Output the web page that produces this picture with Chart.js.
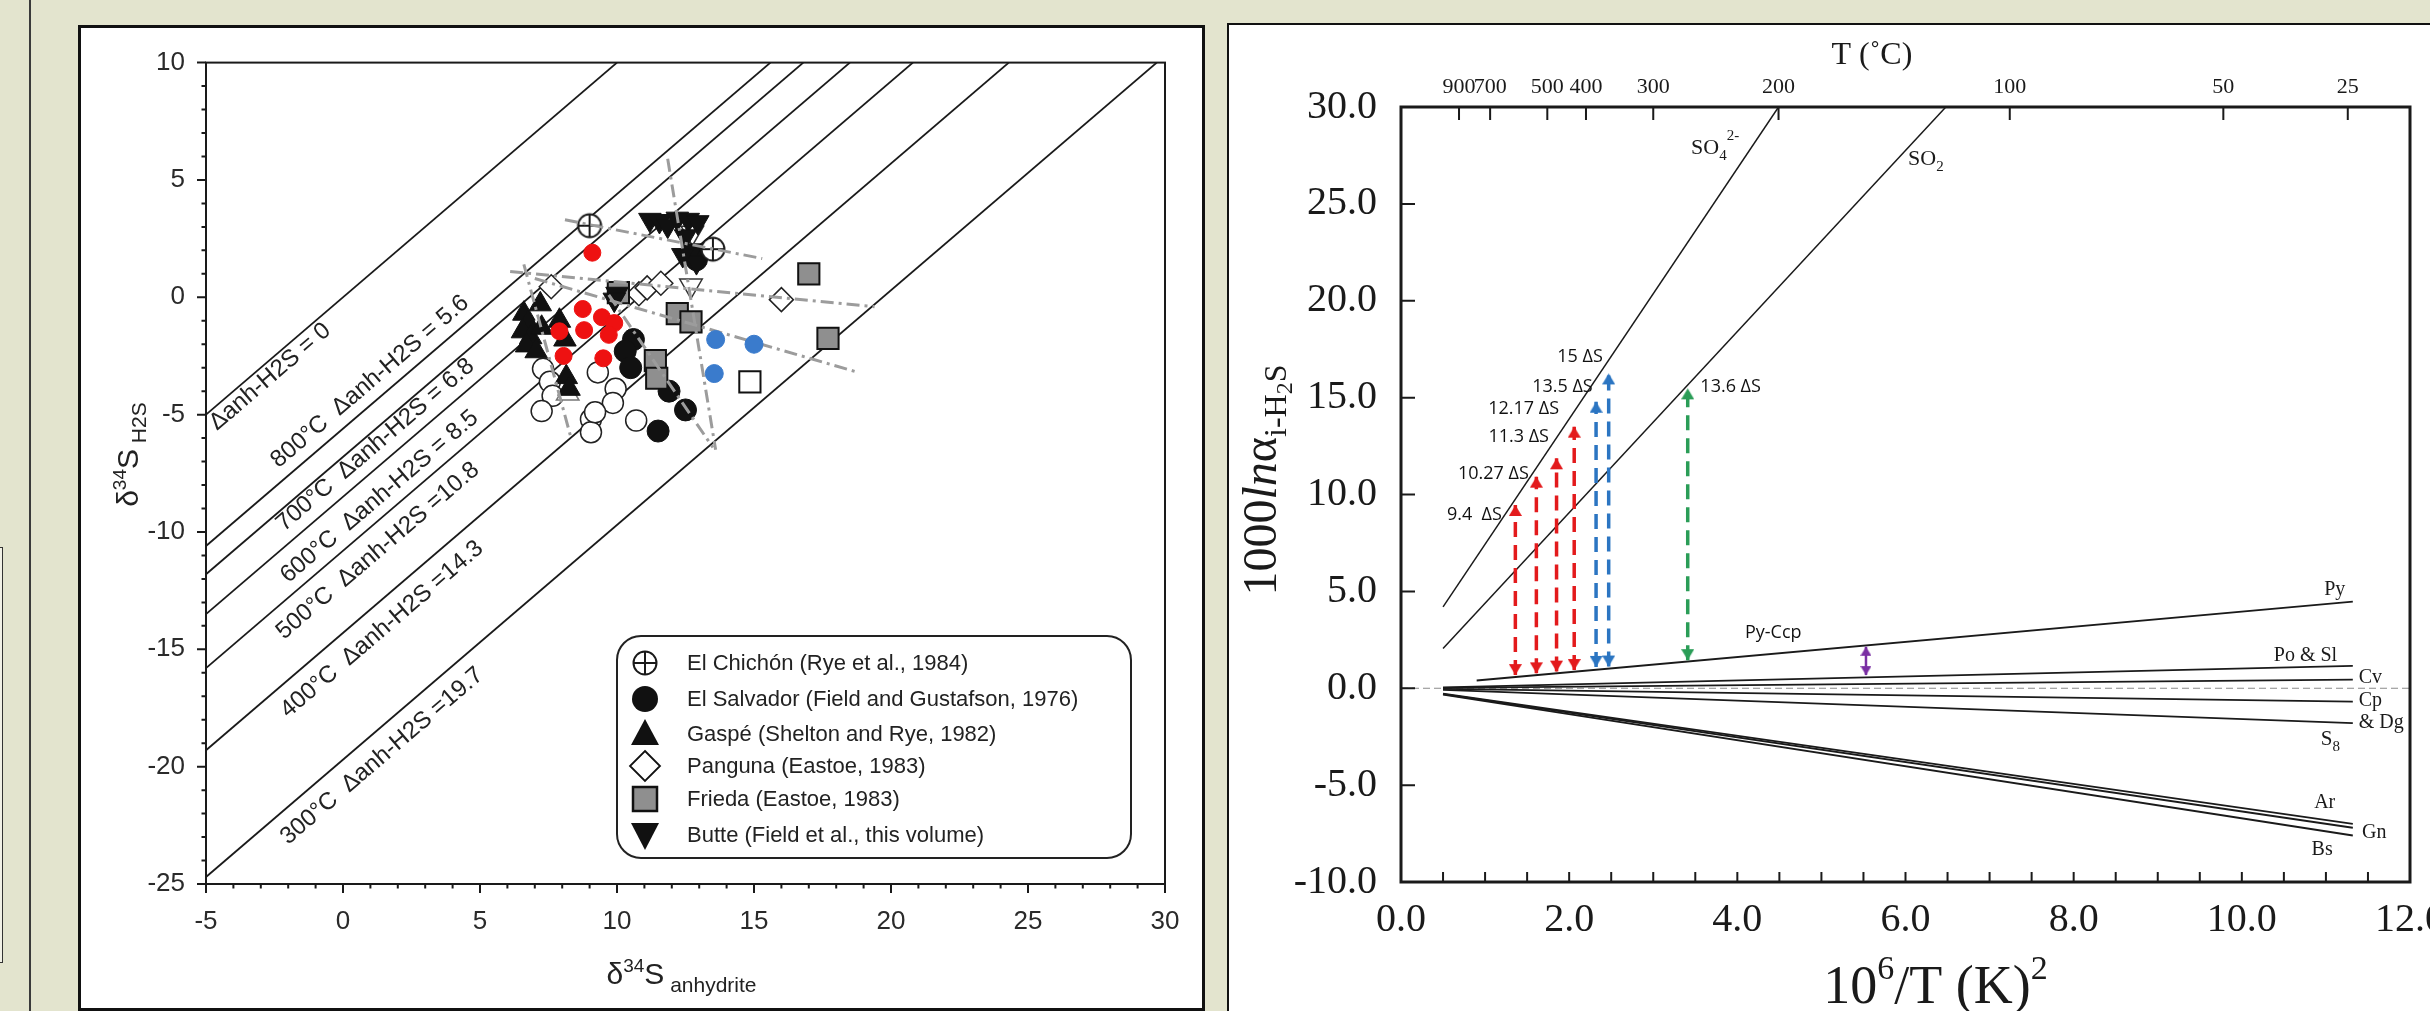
<!DOCTYPE html>
<html>
<head>
<meta charset="utf-8">
<title>Sulfur isotope fractionation</title>
<script src="https://cdn.jsdelivr.net/npm/chart.js@4.4.1/dist/chart.umd.min.js"></script>
<style>
html,body{margin:0;padding:0;}
body{width:2430px;height:1011px;overflow:hidden;background:#e3e4ce;position:relative;}
.abs{position:absolute;box-sizing:border-box;}
#farBox{left:-2px;top:547px;width:5px;height:416px;border:1.5px solid #333;background:#f1f1e6;}
#vline{left:29px;top:0;width:2px;height:1011px;background:#3a3a3a;}
#panelL{left:78px;top:25px;width:1127px;height:986px;border:3px solid #111;background:#fff;}
#panelR{left:1227px;top:23px;width:1260px;height:1050px;border:2px solid #111;background:#fff;}
canvas{position:absolute;}
#cL{left:79px;top:26px;}
#cR{left:1228px;top:24px;}
</style>
</head>
<body>
<div id="farBox" class="abs"></div>
<div id="vline" class="abs"></div>
<div id="panelL" class="abs"></div>
<div id="panelR" class="abs"></div>
<canvas id="cL" width="1125" height="984"></canvas>
<canvas id="cR" width="1262" height="1000"></canvas>
<script>
// ================= LEFT PANEL DATA =================
const leftXRange = [-5, 30];
const leftYRange = [-25, 10];
const isoDeltas = [0, 5.6, 6.8, 8.5, 10.8, 14.3, 19.7];
const isoTemps  = ['', '800°C', '700°C', '600°C', '500°C', '400°C', '300°C'];
const isoLabelAt = [[-4.6,-5.7],[-2.35,-7.3],[-2.15,-10.0],[-2.0,-12.2],[-2.15,-14.6],[-2.0,-17.95],[-2.0,-23.35]];

const elChichon  = [[9.0,3.05],[13.5,2.05]];
const elSalvador = [[10.6,-1.8],[10.3,-2.3],[10.5,-3.0],[11.9,-4.0],[12.5,-4.8],[11.5,-5.7],[12.9,1.6]];
const gaspe      = [[6.6,-0.7],[6.75,-1.1],[6.55,-1.45],[6.85,-1.7],[6.7,-2.05],[7.05,-2.3],[7.25,-1.3],[7.2,-0.3],[7.9,-1.0],[8.1,-1.8],[8.15,-3.4],[8.25,-3.9]];
const panguna    = [[7.6,0.45],[10.8,0.15],[11.1,0.4],[11.6,0.6],[16.0,-0.1]];
const frieda     = [[17.0,1.0],[17.7,-1.75],[12.2,-0.7],[12.7,-1.05],[11.4,-2.7],[11.45,-3.45],[10.05,0.2]];
const butte      = [[11.2,3.3],[11.55,3.25],[11.85,3.05],[12.2,3.35],[12.6,3.3],[12.95,3.2],[12.5,2.6],[12.75,2.0],[12.9,1.5],[12.4,1.8],[10.0,0.15],[9.9,-0.1]];
const butteOpen  = [[12.75,2.75],[12.7,0.5]];
const openCircles= [[7.3,-3.05],[7.55,-3.6],[7.65,-4.2],[7.25,-4.85],[9.3,-3.2],[9.95,-3.9],[9.85,-4.5],[9.05,-5.2],[9.05,-5.75],[10.7,-5.25],[9.2,-4.9]];
const openTriangle = [[8.2,-4.1]];
const openSquare = [[14.85,-3.6]];
const redDots    = [[9.1,1.9],[8.75,-0.5],[9.45,-0.85],[8.8,-1.4],[7.9,-1.45],[9.9,-1.1],[9.7,-1.6],[8.05,-2.5],[9.5,-2.6]];
const blueDots   = [[13.6,-1.8],[15.0,-2.0],[13.55,-3.25]];
const trendLines = [
  [[8.1,3.3],[15.3,1.65]],
  [[6.1,1.1],[19.4,-0.4]],
  [[7.0,0.8],[18.8,-3.2]],
  [[11.85,5.9],[13.6,-6.5]],
  [[6.6,1.4],[8.3,-5.9]],
  [[9.7,0.1],[13.5,-6.4]]
];
const legendNames = ['El Chichón (Rye et al., 1984)','El Salvador (Field and Gustafson, 1976)','Gaspé (Shelton and Rye, 1982)','Panguna (Eastoe, 1983)','Frieda (Eastoe, 1983)','Butte (Field et al., this volume)'];
const legendKinds = ['cplus','circle','tri','diam','sq','itri'];

// ================= RIGHT PANEL DATA =================
const rightXRange = [0, 12];
const rightYRange = [-10, 30];
const topTickLabels = ['900','700','500','400','300','200','100','50','25'];
const topTickPos    = [0.69,1.06,1.74,2.2,3.0,4.49,7.24,9.78,11.26];
const curveNames = ['SO4','SO2','Py','PoSl','Cv','Cp','S8','Ar','Gn','Bs'];
const curveStart = [[0.5,4.2],[0.5,2.05],[0.9,0.4],[0.5,0.05],[0.5,0.02],[0.5,-0.03],[0.5,-0.08],[0.5,-0.28],[0.5,-0.3],[0.5,-0.33]];
const curveEnd   = [[4.49,30],[6.48,30],[11.32,4.47],[11.32,1.15],[11.32,0.45],[11.32,-0.69],[11.32,-1.8],[11.32,-7.0],[11.32,-7.2],[11.32,-7.6]];
const arrowX      = [1.36,1.61,1.85,2.06,2.32,2.47,3.41,5.53];
const arrowTop    = [9.46,10.92,11.87,13.5,14.79,16.25,15.48,2.14];
const arrowBottom = [0.68,0.77,0.86,0.94,1.1,1.12,1.45,0.68];
const arrowGroup  = ['red','red','red','red','blue','blue','green','purple'];
const arrowTexts  = ['9.4  ΔS','10.27 ΔS','11.3 ΔS','12.17 ΔS','13.5 ΔS','15 ΔS','13.6 ΔS','Py-Ccp'];
const arrowTextAt = [[1.2,8.94,'right'],[1.52,11.05,'right'],[1.76,12.95,'right'],[1.88,14.4,'right'],[2.28,15.56,'right'],[2.4,17.1,'right'],[3.56,15.56,'left'],[4.09,2.85,'left']];
const curveTexts  = ['Py','Po & Sl','Cv','Cp','& Dg','Ar','Gn','Bs'];
const curveTextAt = [[10.98,5.07],[10.38,1.66],[11.39,0.53],[11.39,-0.66],[11.39,-1.79],[10.86,-5.92],[11.43,-7.47],[10.83,-8.35]];

// ================= STYLE =================
const SANS = "'Liberation Sans', Arial, Helvetica, sans-serif";
const SERIF = "'Liberation Serif', 'Times New Roman', serif";
const CAL = "'Open Sans', 'Noto Sans', sans-serif";
const groupColor = {red:'#e31a1c', blue:'#2b75c2', green:'#2a9d57', purple:'#7a2fa3'};
const INK = '#1a1a1a';

function makeCanvas(w,h,draw){const c=document.createElement('canvas');c.width=w;c.height=h;draw(c.getContext('2d'));return c;}
const circlePlus = makeCanvas(28,28,ctx=>{ctx.fillStyle='#fff';ctx.strokeStyle=INK;ctx.lineWidth=2;ctx.beginPath();ctx.arc(14,14,11.5,0,Math.PI*2);ctx.fill();ctx.stroke();ctx.beginPath();ctx.moveTo(2.5,14);ctx.lineTo(25.5,14);ctx.moveTo(14,2.5);ctx.lineTo(14,25.5);ctx.stroke();});
function arrowHead(color, up, w, h){
  return makeCanvas(w, 2*h+2, ctx=>{const c=h+1;ctx.fillStyle=color;ctx.beginPath();
    if(up){ctx.moveTo(w/2,c);ctx.lineTo(w,c+h);ctx.lineTo(0,c+h);} else {ctx.moveTo(w/2,c);ctx.lineTo(w,c-h);ctx.lineTo(0,c-h);}
    ctx.closePath();ctx.fill();});
}
const pts = a => a.map(([x,y])=>({x,y}));

function rich(ctx, segs, x, y, align, family, color){
  let w=0;
  segs.forEach(s=>{ctx.font=(s.i?'italic ':'')+s.s+'px '+family; s._w=ctx.measureText(s.t).width; w+=s._w;});
  let cx = align==='center' ? x-w/2 : (align==='right' ? x-w : x);
  ctx.fillStyle=color; ctx.textAlign='left'; ctx.textBaseline='alphabetic';
  segs.forEach(s=>{ctx.font=(s.i?'italic ':'')+s.s+'px '+family; ctx.fillText(s.t,cx,y+(s.dy||0)); cx+=s._w;});
}

// ================= LEFT CHART =================
const leftSets = [];
isoDeltas.forEach(d=>{
  leftSets.push({type:'line', data:[{x:leftXRange[0],y:leftXRange[0]-d},{x:leftYRange[1]+d,y:leftYRange[1]}],
    borderColor:INK, borderWidth:1.8, pointRadius:0, order:20});
});
trendLines.forEach(l=>{
  leftSets.push({type:'line', data:pts(l), borderColor:'#9c9c9c', borderWidth:3, borderDash:[13,5,3,5], pointRadius:0, order:1});
});
function sc(data, style, r, bg, bc, bw, order, rot){
  return {type:'scatter', data:pts(data), pointStyle:style, pointRadius:r, pointBackgroundColor:bg, pointBorderColor:bc, pointBorderWidth:bw, pointRotation:rot||0, order};
}
leftSets.push(sc(openCircles,'circle',10.5,'#fff','#222',1.5,9));
leftSets.push(sc(gaspe,'triangle',13,'#111','#111',1,8));
leftSets.push(sc(openTriangle,'triangle',13,'#fff','#777',1.5,8));
leftSets.push(sc(elSalvador,'circle',11,'#111','#111',1,7));
leftSets.push(sc(panguna,'rectRot',12,'#fff','#222',1.5,6));
leftSets.push(sc(frieda,'rect',15,'#8f8f8f','#111',2,5));
leftSets.push(sc(openSquare,'rect',15,'#fff','#111',2,5));
leftSets.push(sc(butte,'triangle',13,'#111','#111',1,4,180));
leftSets.push(sc(butteOpen,'triangle',13,'#fff','#333',1.5,4,180));
leftSets.push(sc(elChichon,circlePlus,4,'#fff','#111',1,3));
leftSets.push(sc(redDots,'circle',8.5,'#ee1111','#ee1111',1,0));
leftSets.push(sc(blueDots,'circle',9,'#3a7bcc','#3a7bcc',1,0));

function legendSym(ctx, kind, x, y){
  ctx.save(); ctx.lineWidth=1.8; ctx.strokeStyle='#111';
  if(kind==='cplus'){ctx.drawImage(circlePlus,x-14,y-14);}
  else if(kind==='circle'){ctx.fillStyle='#111';ctx.beginPath();ctx.arc(x,y,13,0,Math.PI*2);ctx.fill();}
  else if(kind==='tri'){ctx.fillStyle='#111';ctx.beginPath();ctx.moveTo(x,y-15);ctx.lineTo(x+14,y+11);ctx.lineTo(x-14,y+11);ctx.closePath();ctx.fill();}
  else if(kind==='diam'){ctx.fillStyle='#fff';ctx.beginPath();ctx.moveTo(x,y-15);ctx.lineTo(x+15,y);ctx.lineTo(x,y+15);ctx.lineTo(x-15,y);ctx.closePath();ctx.fill();ctx.stroke();}
  else if(kind==='sq'){ctx.fillStyle='#8f8f8f';ctx.lineWidth=2.5;ctx.fillRect(x-12,y-12,24,24);ctx.strokeRect(x-12,y-12,24,24);}
  else if(kind==='itri'){ctx.fillStyle='#111';ctx.beginPath();ctx.moveTo(x-14,y-12);ctx.lineTo(x+14,y-12);ctx.lineTo(x,y+15);ctx.closePath();ctx.fill();}
  ctx.restore();
}

const leftDecor = {
  id:'leftDecor',
  afterDraw(chart){
    const {ctx, chartArea:a, scales:{x:xs, y:ys}} = chart;
    ctx.save();
    // frame
    ctx.strokeStyle=INK; ctx.lineWidth=2;
    ctx.strokeRect(a.left,a.top,a.right-a.left,a.bottom-a.top);
    // ticks (outward, major every 5)
    ctx.lineWidth=2; ctx.beginPath();
    xs.ticks.forEach(t=>{const p=xs.getPixelForValue(t.value);const L=(Math.abs(t.value%5)<1e-9)?9:4.5;ctx.moveTo(p,a.bottom);ctx.lineTo(p,a.bottom+L);});
    ys.ticks.forEach(t=>{const p=ys.getPixelForValue(t.value);const L=(Math.abs(t.value%5)<1e-9)?9:4.5;ctx.moveTo(a.left,p);ctx.lineTo(a.left-L,p);});
    ctx.stroke();
    // isotherm labels
    const ang=Math.atan2(ys.getPixelForValue(1)-ys.getPixelForValue(0), xs.getPixelForValue(1)-xs.getPixelForValue(0));
    ctx.fillStyle='#222'; ctx.font='24px '+SANS; ctx.textAlign='left'; ctx.textBaseline='alphabetic';
    isoDeltas.forEach((d,i)=>{
      const txt = i===0 ? 'Δanh-H2S = 0' : isoTemps[i]+'  Δanh-H2S ='+(d>=10?'':' ')+d;
      ctx.save();
      ctx.translate(xs.getPixelForValue(isoLabelAt[i][0]), ys.getPixelForValue(isoLabelAt[i][1]));
      ctx.rotate(ang); ctx.fillText(txt,0,0); ctx.restore();
    });
    // axis titles
    rich(ctx,[{t:'δ',s:30},{t:'34',s:19,dy:-12},{t:'S',s:30},{t:' anhydrite',s:21,dy:8}], (a.left+a.right)/2-4, a.bottom+100, 'center', SANS, '#222');
    ctx.save(); ctx.translate(a.left-68, a.top+392); ctx.rotate(-Math.PI/2);
    rich(ctx,[{t:'δ',s:30},{t:'34',s:19,dy:-12},{t:'S',s:30},{t:' H2S',s:21,dy:8}], 0, 0, 'center', SANS, '#222');
    ctx.restore();
    // legend box
    const bx=538, by=610, bw=514, bh=222, r=24;
    ctx.beginPath();
    ctx.moveTo(bx+r,by); ctx.lineTo(bx+bw-r,by); ctx.arcTo(bx+bw,by,bx+bw,by+r,r);
    ctx.lineTo(bx+bw,by+bh-r); ctx.arcTo(bx+bw,by+bh,bx+bw-r,by+bh,r);
    ctx.lineTo(bx+r,by+bh); ctx.arcTo(bx,by+bh,bx,by+bh-r,r);
    ctx.lineTo(bx,by+r); ctx.arcTo(bx,by,bx+r,by,r); ctx.closePath();
    ctx.fillStyle='#fff'; ctx.fill(); ctx.lineWidth=2; ctx.strokeStyle='#222'; ctx.stroke();
    const rows=[637,673,708,740,773,809];
    legendNames.forEach((n,i)=>{
      legendSym(ctx, legendKinds[i], 566, rows[i]);
      ctx.fillStyle='#222'; ctx.font='22px '+SANS; ctx.textAlign='left'; ctx.textBaseline='middle';
      ctx.fillText(n, 608, rows[i]+1);
    });
    ctx.restore();
  }
};

new Chart(document.getElementById('cL'), {
  data:{datasets:leftSets},
  options:{
    responsive:false, animation:false, events:[],
    layout:{padding:{left:10,top:33,right:39,bottom:10}},
    plugins:{legend:{display:false}, tooltip:{enabled:false}},
    scales:{
      x:{type:'linear', min:leftXRange[0], max:leftXRange[1], afterFit:s=>{s.height=116;},
         ticks:{stepSize:1, autoSkip:false, maxRotation:0, padding:22, color:'#2a2a2a', font:{family:SANS,size:26},
                callback:v=>(Math.abs(v%5)<1e-9?String(v):'')},
         grid:{display:false, drawTicks:false}, border:{display:false}},
      y:{type:'linear', min:leftYRange[0], max:leftYRange[1], afterFit:s=>{s.width=117;},
         ticks:{stepSize:1, autoSkip:false, padding:21, color:'#2a2a2a', font:{family:SANS,size:26},
                callback:v=>(Math.abs(v%5)<1e-9?String(v):'')},
         grid:{display:false, drawTicks:false}, border:{display:false}}
    }
  },
  plugins:[leftDecor]
});

// ================= RIGHT CHART =================
const rightSets = [];
rightSets.push({type:'line', data:[{x:rightXRange[0],y:0},{x:rightXRange[1],y:0}], borderColor:'#8a8a8a', borderWidth:1.2, borderDash:[7,4], pointRadius:0, order:30});
curveNames.forEach((n,i)=>{
  rightSets.push({type:'line', label:n, data:pts([curveStart[i],curveEnd[i]]), borderColor:INK, borderWidth:(i<2?1.5:1.8), pointRadius:0, order:20});
});
const heads = {};
Object.keys(groupColor).forEach(g=>{
  const w = g==='purple'?11:13, h = g==='purple'?9:11;
  heads[g] = {up:arrowHead(groupColor[g],true,w,h), down:arrowHead(groupColor[g],false,w,h)};
});
arrowX.forEach((x,i)=>{
  const g=arrowGroup[i];
  rightSets.push({type:'line', data:[{x,y:arrowBottom[i]},{x,y:arrowTop[i]}], borderColor:groupColor[g],
    borderWidth:(g==='purple'?2.5:3.5), borderDash:(g==='purple'?[]:[15,8]),
    pointStyle:[heads[g].down, heads[g].up], pointRadius:3, order:5});
});

const rightDecor = {
  id:'rightDecor',
  afterDraw(chart){
    const {ctx, chartArea:a, scales:{x:xs, y:ys, xTop}} = chart;
    ctx.save();
    ctx.strokeStyle=INK; ctx.lineWidth=3;
    ctx.strokeRect(a.left,a.top,a.right-a.left,a.bottom-a.top);
    ctx.lineWidth=2; ctx.beginPath();
    xs.ticks.forEach(t=>{const p=xs.getPixelForValue(t.value); if(p>a.left+3&&p<a.right-3){ctx.moveTo(p,a.bottom);ctx.lineTo(p,a.bottom-10);}});
    ys.ticks.forEach(t=>{const p=ys.getPixelForValue(t.value); if(p>a.top+3&&p<a.bottom-3){ctx.moveTo(a.left,p);ctx.lineTo(a.left+14,p);}});
    xTop.ticks.forEach(t=>{const p=xTop.getPixelForValue(t.value); ctx.moveTo(p,a.top);ctx.lineTo(p,a.top+13);});
    ctx.stroke();
    const X=v=>xs.getPixelForValue(v), Y=v=>ys.getPixelForValue(v);
    // curve labels
    ctx.fillStyle=INK; ctx.font='20px '+SERIF; ctx.textAlign='left'; ctx.textBaseline='middle';
    curveTexts.forEach((t,i)=>ctx.fillText(t, X(curveTextAt[i][0]), Y(curveTextAt[i][1])));
    rich(ctx,[{t:'SO',s:22},{t:'4',s:15,dy:6},{t:'2-',s:15,dy:-14}], X(3.45), Y(28.0)+8, 'left', SERIF, INK);
    rich(ctx,[{t:'SO',s:22},{t:'2',s:15,dy:6}], X(6.03), Y(27.4)+8, 'left', SERIF, INK);
    rich(ctx,[{t:'S',s:21},{t:'8',s:15,dy:6}], X(10.94), Y(-2.57)+7, 'left', SERIF, INK);
    // arrow annotations
    ctx.font='18px '+CAL; ctx.textBaseline='middle'; ctx.fillStyle='#111';
    arrowTexts.forEach((t,i)=>{ctx.textAlign=arrowTextAt[i][2]; ctx.fillText(t, X(arrowTextAt[i][0]), Y(arrowTextAt[i][1]));});
    // titles
    rich(ctx,[{t:'T (˚C)',s:32}], X(5.6), a.top-43, 'center', SERIF, INK);
    rich(ctx,[{t:'10',s:54},{t:'6',s:34,dy:-24},{t:'/T (K)',s:54},{t:'2',s:34,dy:-24}], (a.left+a.right)/2+30, a.bottom+121, 'center', SERIF, INK);
    ctx.save(); ctx.translate(a.left-125, a.top+373); ctx.rotate(-Math.PI/2);
    rich(ctx,[{t:'1000',s:48},{t:'ln',s:48,i:true},{t:'α',s:48},{t:'i-H',s:32,dy:10},{t:'2',s:24,dy:16},{t:'S',s:32,dy:10}], 0, 0, 'center', SERIF, INK);
    ctx.restore();
    ctx.restore();
  }
};

new Chart(document.getElementById('cR'), {
  data:{datasets:rightSets},
  options:{
    responsive:false, animation:false, events:[],
    layout:{padding:{left:10,top:10,right:80,bottom:10}},
    plugins:{legend:{display:false}, tooltip:{enabled:false}},
    scales:{
      x:{type:'linear', position:'bottom', min:rightXRange[0], max:rightXRange[1], afterFit:s=>{s.height=132;},
         ticks:{stepSize:0.5, autoSkip:false, maxRotation:0, padding:14, color:INK, font:{family:SERIF,size:40},
                callback:v=>(Math.abs(v/2-Math.round(v/2))<1e-6?v.toFixed(1):'')},
         grid:{display:false, drawTicks:false}, border:{display:false}},
      xTop:{type:'linear', position:'top', min:rightXRange[0], max:rightXRange[1], afterFit:s=>{s.height=73;},
         afterBuildTicks:s=>{s.ticks=topTickPos.map(v=>({value:v}));},
         ticks:{autoSkip:false, maxRotation:0, padding:7, color:INK, font:{family:SERIF,size:22},
                callback:(v,i)=>topTickLabels[i]},
         grid:{display:false, drawTicks:false}, border:{display:false}},
      y:{type:'linear', min:rightYRange[0], max:rightYRange[1], afterFit:s=>{s.width=163;},
         ticks:{stepSize:5, autoSkip:false, padding:24, color:INK, font:{family:SERIF,size:40},
                callback:v=>v.toFixed(1)},
         grid:{display:false, drawTicks:false}, border:{display:false}}
    }
  },
  plugins:[rightDecor]
});
</script>
</body>
</html>
